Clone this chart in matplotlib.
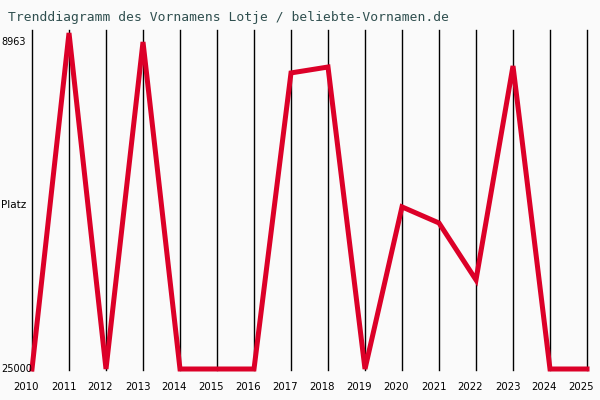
import matplotlib
matplotlib.use("Agg")
import matplotlib.pyplot as plt
import matplotlib.transforms as mtransforms

years = list(range(2010, 2026))
ranks = [25000, 8520, 25000, 8963, 25000, 25000, 25000, 10480, 10190,
         25000, 17050, 17840, 20630, 10140, 25000, 25000]
ytick_values = [8963, 25000]
ytick_labels = ["8963", "25000"]
title = "Trenddiagramm des Vornamens Lotje / beliebte-Vornamen.de"

bg = "#fafafa"
fig = plt.figure(figsize=(6, 4), dpi=100, facecolor=bg)
ax = fig.add_axes([32/600, 30/400, (587-32)/600, 340/400])
ax.set_facecolor(bg)
ax.set_xlim(2010, 2025)
ax.set_ylim(25049, 8375)
for s in ax.spines.values():
    s.set_visible(False)
ax.set_xticks([])
ax.set_yticks([])

for y in years:
    ax.axvline(y, color="black", lw=1, zorder=1, clip_on=False)

ax.plot(years, ranks, color="#dc0028", lw=3.6, zorder=3,
        solid_joinstyle="miter", clip_on=False)

# y labels, left-aligned at figure x=1px
trans = mtransforms.blended_transform_factory(fig.transFigure, ax.transData)
for v, lab in zip(ytick_values, ytick_labels):
    ax.text(1/600, v, lab, transform=trans, ha="left", va="center",
            fontsize=7, family="DejaVu Sans", color="black")
ax.text(1/600, (ytick_values[0] + ytick_values[1]) / 2, "Platz", transform=trans,
        ha="left", va="center", fontsize=7.5, family="DejaVu Sans", color="black")

# x labels
xtrans = mtransforms.blended_transform_factory(ax.transData, fig.transFigure) + \
    mtransforms.ScaledTranslation(-5.5/100, 0, fig.dpi_scale_trans)
for y in years:
    ax.text(y, 1 - 387/400, str(y), transform=xtrans, ha="center", va="center",
            fontsize=7.3, family="DejaVu Sans", color="black")

fig.text(8/600, 1 - 18/400, title, ha="left", va="center", fontsize=9.4,
         family="DejaVu Sans Mono", color="#2f4f4f")

fig.savefig("out.png", dpi=100, facecolor=bg)
